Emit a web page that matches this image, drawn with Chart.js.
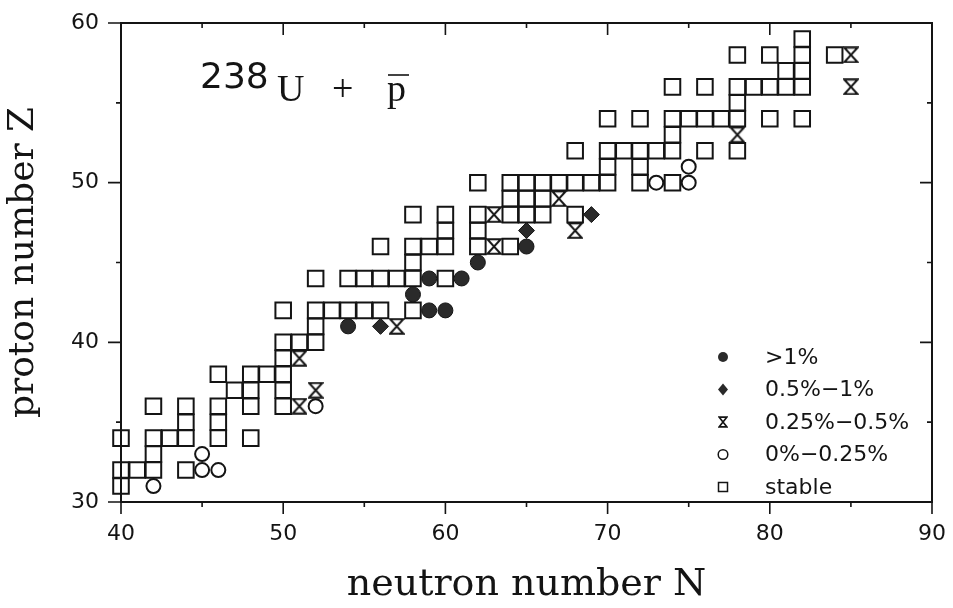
<!DOCTYPE html>
<html><head><meta charset="utf-8">
<script src="https://cdn.jsdelivr.net/npm/chart.js@4.4.1/dist/chart.umd.min.js"></script>
<style>html,body{margin:0;padding:0;background:#fff;}canvas{display:block;}</style>
</head><body>
<canvas id="c" width="953" height="608"></canvas>
<script>
// ---- data (N = neutron number, Z = proton number) ----
const xTicks = [40, 50, 60, 70, 80, 90];
const yTicks = [30, 40, 50, 60];
const legendLabels = ['>1%', '0.5%\u22121%', '0.25%\u22120.5%', '0%\u22120.25%', 'stable'];

// yield > 1%  [N, Z]
const above1 = [[54,41],[58,43],[59,42],[60,42],[59,44],[61,44],[62,45],[65,46]];
// 0.5% - 1%
const p05to1 = [[56,41],[65,47],[69,48]];
// 0.25% - 0.5%
const p025to05 = [[51,36],[52,37],[51,39],[57,41],[63,46],[63,48],[67,49],[68,47],[78,53],[85,56],[85,58]];
// 0% - 0.25%
const p0to025 = [[42,31],[45,32],[46,32],[45,33],[52,36],[73,50],[75,50],[75,51]];
// stable nuclei
const stable = [
  [40,31],
  [40,32],[41,32],[42,32],[44,32],
  [42,33],
  [40,34],[42,34],[43,34],[44,34],[46,34],[48,34],
  [44,35],[46,35],
  [42,36],[44,36],[46,36],[48,36],[50,36],
  [47,37],[48,37],[50,37],
  [46,38],[48,38],[49,38],[50,38],
  [50,39],
  [50,40],[51,40],[52,40],
  [52,41],
  [50,42],[52,42],[53,42],[54,42],[55,42],[56,42],[58,42],
  [52,44],[54,44],[55,44],[56,44],[57,44],[58,44],[60,44],
  [58,45],
  [56,46],[58,46],[59,46],[60,46],[62,46],[64,46],
  [60,47],[62,47],
  [58,48],[60,48],[62,48],[64,48],[65,48],[66,48],[68,48],
  [64,49],[65,49],[66,49],
  [62,50],[64,50],[65,50],[66,50],[67,50],[68,50],[69,50],[70,50],[72,50],[74,50],
  [70,51],[72,51],
  [68,52],[70,52],[71,52],[72,52],[73,52],[74,52],[76,52],[78,52],
  [74,53],
  [70,54],[72,54],[74,54],[75,54],[76,54],[77,54],[78,54],[80,54],[82,54],
  [78,55],
  [74,56],[76,56],[78,56],[79,56],[80,56],[81,56],[82,56],
  [81,57],[82,57],
  [78,58],[80,58],[82,58],[84,58],
  [82,59]
];

const toPts = arr => arr.map(([n, z]) => ({x: n, y: z}));
const INK = '#141414';

function makeHourglass(w, h, lw) {
  const c = document.createElement('canvas');
  c.width = w; c.height = h;
  const g = c.getContext('2d');
  g.strokeStyle = INK; g.lineWidth = lw; g.lineJoin = 'miter';
  const p = lw / 2 + 0.3;
  g.beginPath();
  g.moveTo(p, p); g.lineTo(w - p, p); g.lineTo(p, h - p); g.lineTo(w - p, h - p); g.closePath();
  g.stroke();
  return c;
}
const hourglassBig = makeHourglass(16, 17, 2);
const hourglassSmall = makeHourglass(10, 12, 1.6);

function zeroPad(s) { s.paddingLeft = 0; s.paddingRight = 0; s.paddingTop = 0; s.paddingBottom = 0; }

const framePlugin = {
  id: 'frame',
  afterDraw(chart) {
    const {ctx, chartArea: a, scales: {x, y}} = chart;
    ctx.save();
    ctx.strokeStyle = INK;
    ctx.lineWidth = 2;
    ctx.strokeRect(a.left, a.top, a.right - a.left, a.bottom - a.top);
    ctx.lineWidth = 1.6;
    ctx.beginPath();
    for (let v = x.min; v <= x.max; v += 5) {
      const px = x.getPixelForValue(v);
      const major = v % 10 === 0;
      ctx.moveTo(px, a.bottom); ctx.lineTo(px, a.bottom + (major ? 12 : 5));
      ctx.moveTo(px, a.top); ctx.lineTo(px, a.top + (major ? 12 : 5));
    }
    for (let v = y.min; v <= y.max; v += 5) {
      const py = y.getPixelForValue(v);
      const major = v % 10 === 0;
      ctx.moveTo(a.left, py); ctx.lineTo(a.left - (major ? 13 : 5), py);
      ctx.moveTo(a.right, py); ctx.lineTo(a.right - (major ? 12 : 5), py);
    }
    ctx.stroke();
    ctx.restore();
  }
};

const legendPlugin = {
  id: 'customLegend',
  afterDraw(chart) {
    const {ctx, chartArea: a} = chart;
    const mx = a.right - 209, tx = a.right - 167;
    const y0 = a.bottom - 145, step = 32.5;
    ctx.save();
    ctx.fillStyle = INK; ctx.strokeStyle = INK;
    legendLabels.forEach((lab, i) => {
      const yy = y0 + i * step;
      ctx.beginPath();
      if (i === 0) {
        ctx.arc(mx, yy, 5, 0, Math.PI * 2); ctx.fillStyle = '#2a2a2a'; ctx.fill();
      } else if (i === 1) {
        ctx.moveTo(mx, yy - 6); ctx.lineTo(mx + 5, yy); ctx.lineTo(mx, yy + 6); ctx.lineTo(mx - 5, yy); ctx.closePath();
        ctx.fillStyle = '#2a2a2a'; ctx.fill();
      } else if (i === 2) {
        ctx.drawImage(hourglassSmall, mx - 5, yy - 6);
      } else if (i === 3) {
        ctx.lineWidth = 1.5; ctx.arc(mx, yy, 4.8, 0, Math.PI * 2); ctx.stroke();
      } else {
        ctx.lineWidth = 1.5; ctx.strokeRect(mx - 4.5, yy - 4.5, 9, 9);
      }
      ctx.fillStyle = INK;
      ctx.font = '22px "DejaVu Sans"';
      ctx.textBaseline = 'middle';
      ctx.textAlign = 'left';
      ctx.fillText(lab, tx, yy + 1);
    });
    ctx.restore();
  }
};

const titlePlugin = {
  id: 'reactionLabel',
  afterDraw(chart) {
    const {ctx} = chart;
    ctx.save();
    ctx.fillStyle = INK; ctx.strokeStyle = INK;
    ctx.textBaseline = 'alphabetic'; ctx.textAlign = 'left';
    ctx.font = '36px "DejaVu Sans"';
    ctx.fillText('238', 200, 88);
    ctx.font = '38px "Liberation Serif"';
    ctx.fillText('U', 277, 101);
    ctx.fillText('+', 332, 101);
    ctx.fillText('p', 387, 101);
    ctx.lineWidth = 1.6;
    ctx.beginPath(); ctx.moveTo(388, 75); ctx.lineTo(409, 75); ctx.stroke();
    ctx.restore();
  }
};

const tickFont = {family: 'DejaVu Sans', size: 22};

new Chart(document.getElementById('c'), {
  type: 'scatter',
  data: {
    datasets: [
      {label: legendLabels[0], data: toPts(above1), pointStyle: 'circle', pointRadius: 7.5,
       backgroundColor: '#2a2a2a', borderColor: INK, borderWidth: 1, clip: false},
      {label: legendLabels[1], data: toPts(p05to1), pointStyle: 'rectRot', pointRadius: 8,
       backgroundColor: '#2a2a2a', borderColor: INK, borderWidth: 1, clip: false},
      {label: legendLabels[2], data: toPts(p025to05), pointStyle: hourglassBig, pointRadius: 8,
       backgroundColor: INK, borderColor: INK, clip: false},
      {label: legendLabels[3], data: toPts(p0to025), pointStyle: 'circle', pointRadius: 7,
       backgroundColor: 'rgba(0,0,0,0)', borderColor: INK, borderWidth: 2, clip: false},
      {label: legendLabels[4], data: toPts(stable), pointStyle: 'rect', pointRadius: 11,
       backgroundColor: 'rgba(0,0,0,0)', borderColor: INK, borderWidth: 2, clip: false}
    ]
  },
  options: {
    responsive: false,
    animation: false,
    events: [],
    layout: {autoPadding: false, padding: {top: 23, right: 21, left: 0, bottom: 0}},
    plugins: {legend: {display: false}, tooltip: {enabled: false}},
    scales: {
      x: {
        type: 'linear', position: 'bottom', min: 40, max: 90,
        afterBuildTicks: s => { s.ticks = xTicks.map(v => ({value: v})); },
        afterFit: s => { s.height = 106; zeroPad(s); },
        grid: {display: false, drawTicks: false},
        border: {display: false},
        ticks: {font: tickFont, color: INK, padding: 19, maxRotation: 0, autoSkip: false},
        title: {display: true, text: 'neutron number N', color: INK,
                font: {family: 'DejaVu Serif', size: 38, weight: 'normal'}, padding: {top: 0, bottom: 0}}
      },
      y: {
        type: 'linear', position: 'left', min: 30, max: 60,
        afterBuildTicks: s => { s.ticks = yTicks.map(v => ({value: v})); },
        afterFit: s => { s.width = 121; zeroPad(s); },
        grid: {display: false, drawTicks: false},
        border: {display: false},
        ticks: {font: tickFont, color: INK, padding: 22, autoSkip: false},
        title: {display: true, text: 'proton number Z', color: INK,
                font: {family: 'DejaVu Serif', size: 36, weight: 'normal'}, padding: {top: 2, bottom: 0}}
      }
    }
  },
  plugins: [framePlugin, legendPlugin, titlePlugin]
});
</script>
</body></html>
